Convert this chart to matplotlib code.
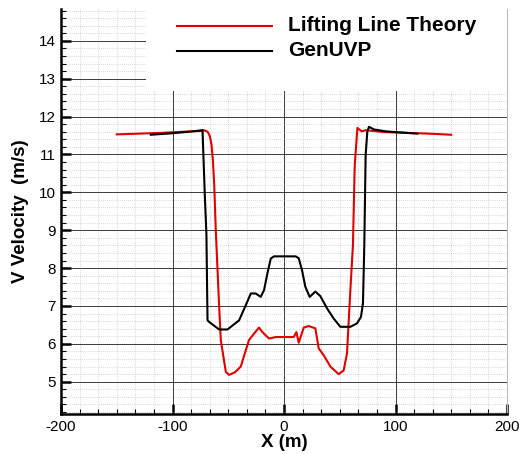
import matplotlib
matplotlib.use("Agg")
import matplotlib.pyplot as plt
from matplotlib.ticker import MultipleLocator
from matplotlib.patches import Rectangle

plt.rcParams['font.family'] = ['Liberation Sans', 'DejaVu Sans']
plt.rcParams['axes.unicode_minus'] = False

# Lifting Line Theory (red)
x_llt = [-150, -130, -110, -90, -75, -71.7, -68.5, -66.5, -65, -63.8, -62.6, -61.2, -59.7,
         -58.2, -56.7, -52.2, -49.3, -44, -38.8, -34.3, -31.4, -26.9, -22.4, -19.4,
         -13.4, -7.4, 1.5, 8.7, 11.1, 13.2, 17.7, 22.1, 28.1, 31.1, 35.6, 41.6, 49,
         53.5, 56.5, 59.5, 61.8, 63.4, 65.8, 69.6, 73.2, 90, 110, 130, 150]
v_llt = [11.53, 11.55, 11.57, 11.60, 11.62, 11.64, 11.60, 11.48, 11.25, 10.85, 10.2, 9.0, 8.0,
         7.0, 6.1, 5.26, 5.18, 5.25, 5.4, 5.83, 6.1, 6.27, 6.43, 6.31,
         6.14, 6.18, 6.18, 6.18, 6.31, 6.03, 6.43, 6.47, 6.41, 5.88, 5.7, 5.4, 5.2,
         5.3, 5.75, 7.42, 8.6, 10.7, 11.7, 11.61, 11.64, 11.59, 11.57, 11.55, 11.52]

# GenUVP (black)
x_uvp = [-119.5, -100, -85, -73.1, -71.1, -69.6, -68.6, -67.2, -58.2, -50.7, -40.3,
         -34.3, -29.8, -25.4, -20.9, -17.9, -14.9, -11.9, -9, 0, 10.5, 13.2, 16.1,
         19.1, 23, 28.1, 32.6, 38.5, 44.5, 50.5, 59.5, 65.4, 69, 70.8, 72, 73.2,
         74.7, 76.2, 80.6, 91.1, 105, 119.5]
v_uvp = [11.52, 11.56, 11.60, 11.64, 9.97, 8.89, 6.62, 6.58, 6.38, 6.38, 6.62,
         7.02, 7.33, 7.33, 7.24, 7.42, 7.86, 8.25, 8.31, 8.31, 8.31, 8.26, 7.95,
         7.51, 7.24, 7.38, 7.26, 6.94, 6.67, 6.45, 6.45, 6.54, 6.71, 7.07, 8.6, 10.98,
         11.6, 11.73, 11.66, 11.61, 11.58, 11.55]

x_ticks = [-200, -100, 0, 100, 200]
y_ticks = [5, 6, 7, 8, 9, 10, 11, 12, 13, 14]

fig = plt.figure(figsize=(5.22, 4.54), dpi=100)
ax = fig.add_axes([0.1169, 0.0874, 0.8544, 0.8928])

ax.plot(x_llt, v_llt, color='#e00000', lw=1.5, zorder=4)
ax.plot(x_uvp, v_uvp, color='black', lw=1.5, zorder=4)

ax.set_xlim(-200, 200)
ax.set_ylim(4.14, 14.84)
ax.set_xticks(x_ticks)
ax.set_yticks(y_ticks)
ax.xaxis.set_minor_locator(MultipleLocator(100 / 6))
ax.yaxis.set_minor_locator(MultipleLocator(0.2))

ax.grid(which='major', color='#3a3a3a', lw=0.7, ls='-')
ax.grid(which='minor', color='#b4b4b4', lw=0.5, ls=(0, (1, 2)))
ax.set_axisbelow(True)

ax.tick_params(which='major', direction='in', length=7, width=1.8, labelsize=11, pad=4)
ax.tick_params(which='minor', direction='in', length=3.5, width=0.8)

ax.spines['top'].set_visible(False)
ax.spines['right'].set_color('#bbbbbb')
ax.spines['right'].set_linewidth(0.8)
for s in ['left', 'bottom']:
    ax.spines[s].set_linewidth(1.8)

ax.set_xlabel('X (m)', fontsize=13.5, fontweight='bold', labelpad=0)
ax.set_ylabel('V Velocity  (m/s)', fontsize=13.5, fontweight='bold', labelpad=7)

# white legend area covering the grid in the top right
ax.add_patch(Rectangle((0.19, 0.7977), 0.82, 0.21, transform=ax.transAxes,
                       facecolor='white', edgecolor='none', zorder=2.5, clip_on=False))
ax.plot([0.2594, 0.4724], [0.9588, 0.9588], transform=ax.transAxes, color='#e00000', lw=1.5, zorder=5)
ax.plot([0.2594, 0.4724], [0.8971, 0.8971], transform=ax.transAxes, color='black', lw=1.5, zorder=5)
ax.text(0.5096, 0.9588, 'Lifting Line Theory', transform=ax.transAxes, fontsize=15,
        fontweight='bold', va='center', zorder=5)
ax.text(0.5096, 0.8971, 'GenUVP', transform=ax.transAxes, fontsize=15,
        fontweight='bold', va='center', zorder=5)

fig.savefig('out.png', dpi=100)
